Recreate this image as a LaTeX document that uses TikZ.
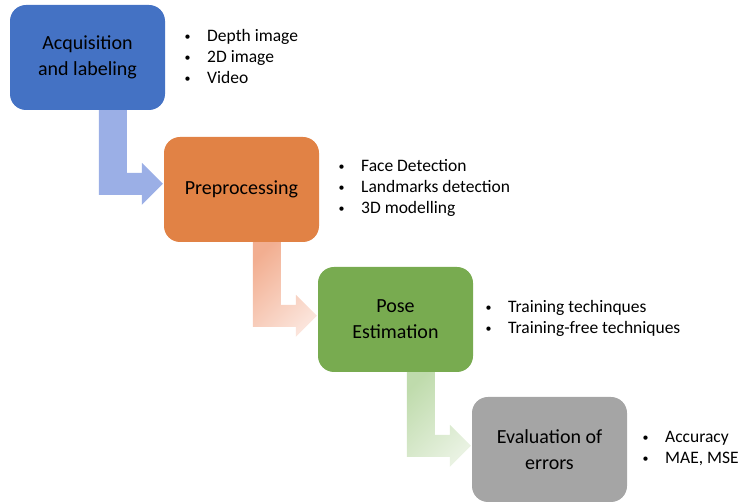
\documentclass[tikz,border=0pt]{standalone}
\usepackage{fontspec}
\setmainfont{Carlito}
\usepackage{tikz}
\usepackage{xcolor}
\usetikzlibrary{backgrounds}

\definecolor{stageblue}{HTML}{4472C4}
\definecolor{stageorange}{HTML}{E18245}
\definecolor{stagegreen}{HTML}{78AB50}
\definecolor{stagegray}{HTML}{A5A5A5}
\definecolor{arrowblue}{HTML}{9BAFE6}
\definecolor{arroworangeA}{HTML}{F2AE90}
\definecolor{arroworangeB}{HTML}{FBE4DB}
\definecolor{arrowgreenA}{HTML}{BFDBAC}
\definecolor{arrowgreenB}{HTML}{E9F2E2}

\newcommand{\bul}{\makebox[23pt][l]{\hspace{0.5pt}\raisebox{1pt}{\fontsize{12}{12}\selectfont\textbullet}}}
\newcommand{\bentarrow}{(89,100)--(117,100)--(117,168)--(132,168)--(132,158)--(153,179)--(132,200)--(132,190)--(89,190)--cycle}

\begin{document}
\begin{tikzpicture}[x=1pt,y=-1pt,
  stage/.style={rounded corners=16pt,minimum width=155pt,minimum height=105pt,
    inner sep=0pt,align=center,font=\fontsize{20}{26}\selectfont},
  points/.style={anchor=west,inner sep=0pt,align=left,font=\fontsize{17.5}{21}\selectfont}]
\useasboundingbox (0,0) rectangle (740,502);
\node[stage,fill=stageblue](acq) at (87.5,57.5){Acquisition\\and labeling};
\node[stage,fill=stageorange](pre) at (241.5,189.5){Preprocessing};
\node[stage,fill=stagegreen](pose) at (395.5,319.5){Pose\\Estimation};
\node[stage,fill=stagegray](eval) at (549.5,449.5){Evaluation of\\errors};
\node[points](acqpts) at (184,56){\bul Depth image\\\bul 2D image\\\bul Video};
\node[points](prepts) at (338,187.5){\bul Face Detection\\\bul Landmarks detection\\\bul 3D modelling};
\node[points](posepts) at (485,318.5){\bul Training techinques\\\bul Training-free techniques};
\node[points](evalpts) at (642,449){\bul Accuracy\\\bul MAE, MSE};
\begin{pgfonlayer}{background}
\begin{scope}[shift={(acq.north west)}]
\fill[arrowblue]\bentarrow;
\end{scope}
\begin{scope}[shift={(pre.north west)}]
\shade[top color=arroworangeA,bottom color=arroworangeB,shading angle=45]\bentarrow;
\end{scope}
\begin{scope}[shift={(pose.north west)}]
\shade[top color=arrowgreenA,bottom color=arrowgreenB,shading angle=45]\bentarrow;
\end{scope}
\end{pgfonlayer}
\end{tikzpicture}
\end{document}
